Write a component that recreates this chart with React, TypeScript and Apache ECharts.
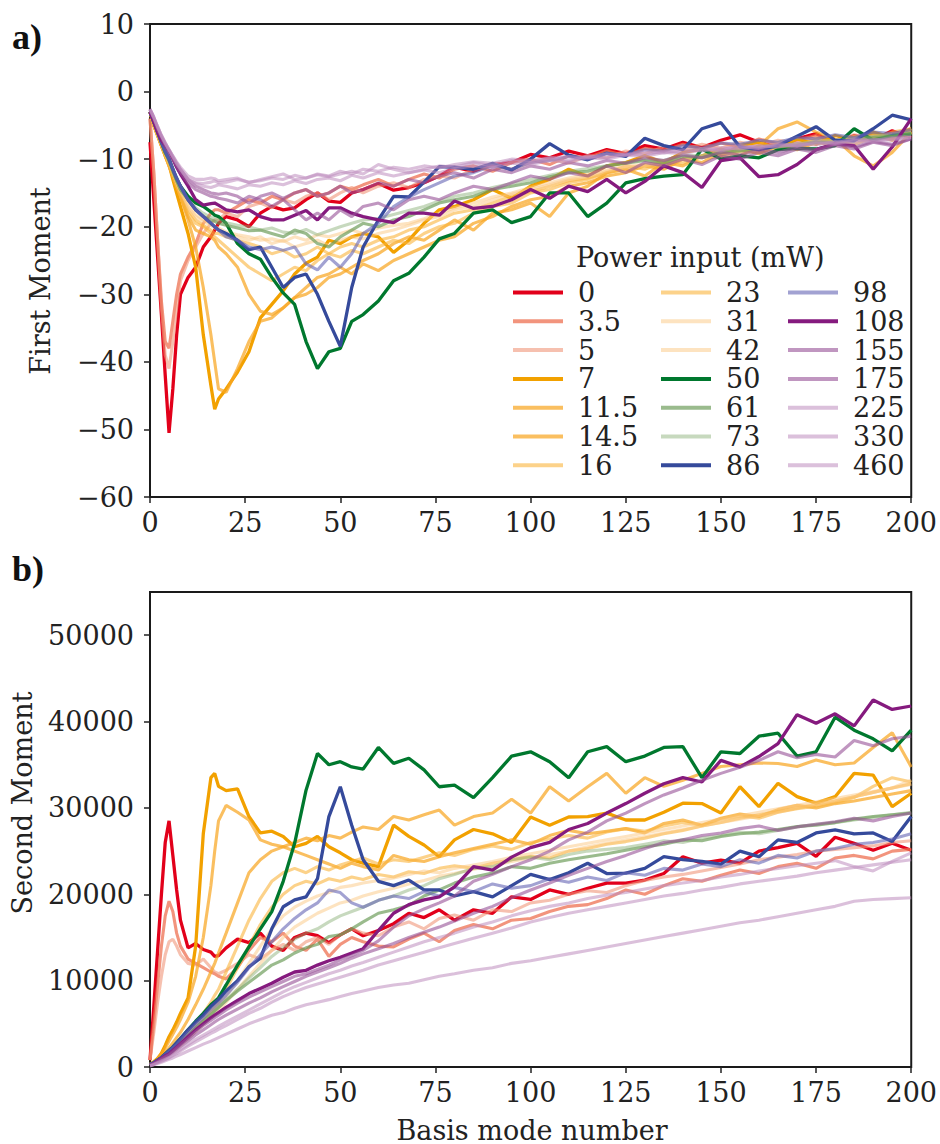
import React, { useEffect, useRef } from "react";
import * as echarts from "echarts";

const X = [0,1,2,3,4,5,6,7,8,10, 12,14,16,17,18,20,23,26,29,32, 35,38,41,44,47,50,53,56,60,64, 68,72,76,80,85,90,95,100,105,110, 115,120,125,130,135,140,145,150,155,160, 165,170,175,180,185,190,195,200];

const NAMES = ["0","3.5","5","7","11.5","14.5","16","23","31","42","50","61","73","86","98","108","155","175","225","330","460"];

const X_TICKS = [0,25,50,75,100,125,150,175,200];
const Y_TICKS_A = [-60,-50,-40,-30,-20,-10,0,10];
const Y_TICKS_B = [0,10000,20000,30000,40000,50000];

// ---------- Panel a) First Moment ----------
const A_0 = [-7.5,-16,-24.5,-33,-42,-50.5,-44,-36,-30,-27.5, -26,-23,-21.5,-20.5,-19.5,-18.5,-19,-20,-18,-17, -17.5,-17.2,-16,-15,-16.2,-16.4,-15,-14.5,-13.6,-14.6, -14.2,-13.5,-12.5,-11.2,-11.8,-10.8,-10.5,-9.3,-9.8,-8.8, -9.5,-8.6,-9.2,-8,-8.5,-7.5,-8.3,-7.2,-6.4,-7.5, -8.2,-7,-6.2,-7.8,-6.5,-7.2,-5.8,-6.8];
const A_3_5 = [-4,-12,-22,-31,-37,-38,-34,-30,-27,-24.5, -22.5,-19.5,-18,-17.5,-17.5,-18,-17,-16,-16.5,-15.5, -16,-15,-14.5,-15.5,-15,-14,-14.5,-13.8,-13,-14, -13,-12.2,-12.8,-11.5,-11,-11.8,-10.5,-10,-10.8,-9.5, -9.8,-8.8,-9.5,-8.4,-8.8,-7.8,-8.5,-7.6,-8.2,-7, -7.8,-7.2,-6.5,-7.5,-6.8,-6.2,-7,-5.8];
const A_5 = [-4,-12,-22,-32,-39,-41,-37,-32,-28,-25, -23,-21,-19.5,-19,-19,-18,-18.5,-17,-16.5,-17.2, -16,-16.5,-15.5,-15,-16,-15,-14.2,-15,-14,-13.5, -14.2,-13,-12.5,-12.8,-11.5,-11,-11.5,-10.5,-10,-10.6, -9.5,-9.8,-8.8,-9.2,-8.2,-8.6,-7.8,-8.4,-7.5,-8, -7.2,-7.6,-6.8,-7.2,-6.4,-7,-6.2,-6.5];
const A_7 = [-3,-5,-6.5,-8,-9.5,-10.8,-13,-15,-17,-21, -26,-36,-43.5,-47,-45.5,-44,-41.5,-38.5,-33.5,-31.5, -29.5,-27,-25.4,-24.5,-22,-22.5,-21.5,-21,-21.5,-23.8, -22,-19.5,-17.5,-17,-16,-14.5,-15.8,-14,-13,-11.5, -12.5,-11,-10.5,-9.5,-10.5,-9,-8.5,-9.5,-8,-7.5, -8.5,-7,-7.8,-6.5,-7.2,-6,-6.8,-5.5];
const A_11_5 = [-3,-5,-6.5,-8,-9.5,-11,-12.5,-14,-15.5,-19, -23,-29,-36,-40,-44,-44.5,-41,-37,-34,-33.5, -32,-30.5,-30,-29,-27.5,-27,-26,-25,-24,-22.5, -21.5,-22,-20.5,-19,-20.5,-18,-17.5,-16.5,-18.5,-15, -14,-12,-11.5,-12.5,-10.5,-11,-9.5,-8.5,-9.5,-8, -5.5,-4.5,-6,-7,-9.5,-11,-9,-6];
const A_14_5 = [-3,-5,-6.5,-8,-9.5,-11,-12.5,-14,-15.5,-18.5, -20.5,-21,-21.5,-22,-23,-24,-26,-30,-32.5,-33, -32,-30.5,-29,-27.5,-27,-26,-27,-25.5,-26.5,-25, -24,-23,-22,-21.5,-19.5,-18.5,-17,-16,-15.5,-14, -13.5,-12.5,-12,-11,-11.5,-10,-10.5,-9,-8.5,-9.2, -8,-8.6,-7.5,-8,-7,-6.4,-7.2,-6];
const A_16 = [-3,-5,-6.5,-8,-9.5,-11,-12.5,-14,-15.5,-18, -19.5,-20,-21,-21.5,-22,-23,-24.5,-26,-27,-28, -27,-26,-26.5,-25,-24,-24.5,-23.5,-24,-23,-22, -22.5,-21,-20,-19.5,-18,-17,-16.5,-15,-14.5,-13.5, -13,-12,-11,-11.5,-10.2,-10.6,-9.5,-9,-8.5,-8.8, -7.6,-8,-7,-7.4,-6.6,-7,-6,-5.5];
const A_23 = [-3,-4.8,-6.3,-7.8,-9.2,-10.5,-12,-13.5,-15,-17.5, -19,-19.8,-20.5,-21,-21,-21.5,-22,-22.5,-23,-24, -23.5,-24.5,-24,-23,-24,-23,-22.5,-23,-22,-21.5, -20.5,-20,-19,-18,-17.5,-16.5,-15.5,-14.8,-14,-13.2, -12.8,-12,-11.5,-10.8,-11.2,-10,-9.6,-9.8,-8.8,-9, -8.2,-8.4,-7.6,-7.2,-7.8,-6.8,-6.4,-6];
const A_31 = [-3,-4.8,-6.3,-7.8,-9.2,-10.5,-12,-13.5,-14.8,-17, -18.5,-19.2,-19.8,-20.2,-20.5,-21,-21.5,-22,-21.5,-22.5, -22,-23,-22.5,-22,-22.8,-22,-21.5,-21.8,-21,-20.5, -19.8,-19,-18.5,-17.5,-17,-16,-15.2,-14.5,-13.8,-13, -12.6,-11.8,-11.2,-11,-10.5,-10.2,-9.8,-9.5,-9,-8.6, -8.4,-8,-7.6,-7.4,-7,-6.8,-6.5,-6.2];
const A_42 = [-3,-4.8,-6.3,-7.8,-9.2,-10.5,-12,-13.5,-14.8,-16.8, -18.2,-19,-19.5,-20,-20.2,-20.8,-21.2,-21.5,-22,-21.8, -22.2,-21.5,-22,-21.2,-21.5,-21,-20.5,-21,-20.2,-19.8, -19.5,-18.8,-18,-17.2,-16.5,-15.6,-15,-14.2,-13.5,-12.8, -12.2,-11.6,-11,-10.8,-10.2,-10,-9.6,-9.2,-8.8,-8.4, -8.2,-7.8,-7.4,-7.2,-6.9,-6.6,-6.3,-6];
const A_50 = [-3,-4.5,-6,-7.5,-9,-10,-11.5,-13,-14,-15.5, -16.5,-17,-17.8,-18.3,-18.5,-19.5,-22.5,-24,-24.8,-27.5, -29.8,-31.5,-37,-41,-38.5,-38,-34,-33,-31,-28, -26.9,-24.5,-21.8,-21,-18,-17.5,-19.4,-18.5,-15,-15, -18.5,-16.5,-13.5,-12.9,-12.5,-12.3,-8.5,-10,-9.5,-9.8, -8.6,-8.4,-8.5,-8,-5.5,-7.2,-6.5,-6.3];
const A_61 = [-3,-4.6,-6.1,-7.6,-9,-10.3,-11.8,-13.2,-14.5,-16, -17.5,-18.5,-19,-19.2,-19.5,-19.8,-20.2,-20.6,-20.5,-21, -21.5,-20.5,-21,-22.5,-23,-21.5,-20.5,-19.5,-20,-19, -18.5,-17.5,-16.5,-16,-15.5,-14.5,-14,-13.5,-12.6,-12, -11.8,-11,-10.6,-10.2,-10.6,-9.6,-9.8,-9,-8.8,-8.5, -8.2,-8,-7.5,-7.6,-7,-6.8,-6.6,-6.2];
const A_73 = [-3,-4.6,-6.1,-7.6,-9,-10.3,-11.8,-13.2,-14.5,-16, -17.2,-18,-18.6,-18.8,-19,-19.4,-19.8,-20,-20.5,-20.2, -20.8,-21,-20.4,-21.2,-20.6,-20,-19.5,-19,-18.8,-18.2, -17.6,-17,-16.2,-15.5,-15,-14.2,-13.6,-13,-12.4,-11.8, -11.4,-11,-10.5,-10,-10.2,-9.4,-9.5,-8.8,-8.6,-8.2, -8,-7.7,-7.4,-7.2,-6.9,-6.6,-6.4,-6];
const A_86 = [-3,-4.5,-6,-7.5,-8.8,-10,-11.5,-12.8,-14,-16, -17.5,-18.5,-19.5,-20,-20.5,-21,-22,-23.4,-23,-26, -29,-27.5,-27,-30,-34,-37.7,-29,-23,-19,-15.5, -15.6,-13.4,-11.1,-11.2,-11.5,-10.6,-11.6,-10,-7.7,-9.4, -10.1,-9.1,-9.6,-6.9,-8,-8.6,-5.5,-4.6,-8.2,-8.6, -8,-6.6,-5.2,-7.2,-7.3,-5.5,-3.5,-4.2];
const A_98 = [-3,-4.5,-6,-7.5,-8.8,-10,-11.5,-12.8,-14,-16, -17.5,-18.5,-19.5,-20,-20.5,-21.5,-22,-23,-23.4,-23, -23.5,-23,-25.5,-26.4,-24.5,-26,-24,-21,-19.5,-17, -15.6,-14.5,-13.5,-12.5,-12,-11,-11.5,-10.5,-10.2,-9.6, -10,-9.2,-9.4,-8.6,-8.8,-8,-8.4,-7.6,-7.8,-7.2, -7.5,-6.8,-7,-6.4,-6.8,-6,-6.2,-5.6];
const A_108 = [-3,-4.5,-6,-7.2,-8,-8.8,-10,-11.2,-12.2,-14, -16,-16.8,-16.6,-16.5,-16.8,-17.5,-17.8,-17.5,-18.5,-19, -19,-18.3,-17.6,-19,-17.2,-17.2,-18,-18.5,-19,-19.4, -18,-18,-18.3,-16.2,-17.3,-17,-16,-14.5,-15.8,-14, -14.8,-13,-15,-13.3,-11,-12,-14.2,-10.2,-9.8,-12.6, -12.3,-10.8,-8.6,-7.7,-8,-11.5,-8.2,-4];
const A_155 = [-2.7,-4,-5.5,-6.8,-8,-9,-10,-11,-12,-13.5, -14.5,-15,-15.5,-15.6,-15.8,-16,-16.5,-15.5,-16,-17, -16,-17.5,-19,-18,-19,-17.5,-18.5,-17,-16.5,-17.5, -16,-15.5,-16,-15,-14,-14.5,-13.5,-12.5,-13,-12, -12.5,-11,-12,-10.5,-11,-10,-10.8,-9.5,-10,-9, -9.5,-8.5,-9,-8,-8.5,-7.5,-8,-7];
const A_175 = [-2.7,-4,-5.5,-6.7,-7.8,-8.8,-9.8,-10.8,-11.6,-13, -14,-14.5,-15,-15.1,-15.2,-15,-15.5,-16.5,-15.5,-15, -15.8,-15,-14.5,-15.5,-15,-14,-15,-14.5,-13.5,-14, -13,-13.5,-12.5,-12,-12.8,-11.5,-12,-11,-11.5,-10.5, -11,-10.2,-10.6,-9.8,-10.2,-9.4,-9.8,-9,-9.4,-8.6, -9,-8.2,-8.6,-7.8,-8.2,-7.4,-7.8,-7];
const A_225 = [-2.6,-3.8,-5.2,-6.5,-7.6,-8.6,-9.5,-10.4,-11.2,-12.5, -13,-13,-12.8,-12.9,-13.2,-13,-12.8,-13.5,-13,-12.6, -12.2,-13,-12.8,-12.3,-12.6,-12.2,-11.8,-12.2,-10.8,-11.5, -12,-11.5,-11,-11.2,-10.5,-11,-10.2,-10.5,-9.8,-10.2, -9.5,-9.8,-9.2,-9.4,-8.8,-9,-8.4,-8.6,-8,-8.3, -7.7,-8,-7.4,-7.6,-7,-7.2,-6.8,-6.6];
const A_330 = [-2.6,-3.8,-5.2,-6.5,-7.6,-8.6,-9.6,-10.6,-11.5,-13, -13.6,-14,-14.2,-14,-13.8,-14,-14.4,-13.8,-14,-13.5, -13.8,-13.2,-13.6,-13,-12.8,-13.2,-12.4,-12.8,-12,-12.5, -12,-11.6,-12,-11.4,-11,-11.2,-10.6,-10.8,-10.2,-10.4, -9.8,-10,-9.4,-9.6,-9,-9.2,-8.6,-8.8,-8.2,-8.4, -7.9,-8.1,-7.6,-7.8,-7.2,-7.4,-7,-6.8];
const A_460 = [-2.6,-3.8,-5.2,-6.5,-7.6,-8.6,-9.6,-10.6,-11.5,-13, -13.5,-13.6,-13.4,-13.2,-13.5,-13.4,-13,-13.4,-13.2,-12.8, -13,-12.4,-12.8,-12.2,-12.5,-11.8,-12.2,-11.5,-11.8,-11.2, -11.5,-11,-11.3,-10.8,-10.4,-10.6,-10,-10.2,-9.8,-9.6, -9.8,-9.2,-9.4,-8.9,-9.1,-8.6,-8.8,-8.3,-8.5,-8, -8.2,-7.7,-7.9,-7.4,-7.6,-7.1,-7.2,-6.8];

// ---------- Panel b) Second Moment ----------
const B_0 = [800,7000,13500,20000,26000,28500,24500,20500,17000,13800, 14300,13600,13300,12800,12900,13800,14800,14400,15500,14000, 13500,15000,15500,15200,14400,15300,16000,15200,15800,16600, 17800,17300,18200,17000,18200,17800,19700,19400,20500,20000, 20700,21300,21300,21650,22400,24350,23600,23950,23600,25000, 25400,25900,24400,26600,25900,25100,25900,25100];
const B_3_5 = [800,5000,9500,14000,17500,19200,18000,15500,14000,12500, 12000,11500,11000,10800,10500,10200,11500,13500,15000,14500, 15500,14000,13500,14800,12800,14200,15000,14500,14000,13900, 14800,15500,14500,15800,16500,16000,17000,17200,18000,18600, 18800,19500,20500,20000,21000,21800,21500,22200,22800,22400, 23200,23600,23000,24200,24500,24100,25000,25200];
const B_5 = [800,4000,7500,10500,13000,14500,14800,14000,13000,12000, 11800,12500,11500,11000,10800,11200,12000,13000,12500,13500, 14200,13500,14500,15000,14200,15300,16000,15500,15200,16200, 16800,16000,17200,17600,17000,18200,18000,19000,19300,20000, 20400,20200,21000,21600,22000,22300,22700,23100,23500,24000, 24300,24600,25000,25200,25400,25600,26000,26200];
const B_7 = [300,600,1000,1600,2500,3500,4300,5200,6200,8000, 14000,27000,33500,34000,32500,32000,32200,29000,27100,27300, 26700,25500,25900,26700,25500,24800,24000,23600,23200,28000, 26700,25700,24350,26300,27500,27000,26000,28950,28000,28950, 29000,29400,28600,28600,29500,30550,30500,29400,32450,30150, 32850,31300,30550,31300,34000,33800,30150,31700];
const B_11_5 = [300,600,1000,1500,2200,3000,3800,4600,5500,7500, 10500,15000,21000,25000,28500,30300,29500,28600,26300,25800, 25500,26000,26500,26200,26800,26500,27200,27800,27500,29000, 28600,29200,29750,28000,29000,29400,31000,29400,32450,30800, 32450,34000,31700,33500,32500,33200,34000,34800,35000,35200, 35150,34800,35550,35000,35200,37000,38700,34750];
const B_14_5 = [300,500,800,1200,1700,2200,2800,3400,4000,5500, 7200,9000,11000,12000,13200,15500,19000,22500,24000,25000, 25500,25000,24500,24000,23500,23000,23600,23200,22800,24500, 24000,23800,24350,24800,25300,25800,26300,25800,26800,27400, 27000,27300,27600,27100,28200,28600,28000,28800,29300,29000, 29800,30300,30000,30500,30800,31200,31600,32000];
const B_16 = [300,500,700,1000,1300,1700,2100,2500,3000,4000, 5000,6200,7500,8300,9000,11000,14000,17000,19500,21500, 22500,23000,22500,23200,22800,23400,23800,24200,23500,24000, 23800,24300,24800,24500,25200,25600,25200,26000,26400,26800, 26500,27200,27600,27300,27900,28300,28000,28700,29100,28800, 29500,29900,30200,30600,31200,32500,33500,33000];
const B_23 = [300,450,650,900,1200,1500,1900,2300,2700,3600, 4500,5500,6500,7000,7500,9000,11500,14000,16500,18500, 20000,21000,21500,21200,21800,21500,22000,21700,22300,22000, 22600,22400,23000,23300,23000,23600,24000,24400,24200,25000, 25300,25800,26100,26500,27000,27400,27900,28300,28800,29200, 29600,30000,30400,30800,31300,31800,32300,32800];
const B_31 = [300,450,650,900,1200,1500,1900,2300,2700,3500, 4300,5200,6100,6600,7100,8200,10000,12000,14000,16000, 17500,18500,19200,19800,20200,20800,21000,21300,21600,21900, 22300,22700,22500,23000,23400,23800,24300,24700,25100,25500, 25900,26300,26700,27100,27500,27900,28300,28700,29100,29500, 29900,30300,30700,31100,31500,31900,32300,32700];
const B_42 = [300,450,650,850,1100,1400,1750,2100,2500,3300, 4100,4900,5700,6100,6500,7500,9000,10500,12000,13500, 15000,16200,17000,17800,18400,19000,19300,19800,20300,20700, 21200,21600,22100,22400,22900,23300,23800,24200,24600,25000, 25500,25900,26300,26700,27100,27500,27900,28300,28700,29100, 29500,30000,30400,30800,31300,31800,32300,33200];
const B_50 = [300,500,800,1100,1500,1900,2300,2800,3300,4300, 5300,6200,7200,7600,8000,9500,11800,13900,16000,18000, 21500,25900,32050,36300,35000,35350,34750,34500,37000,35150, 35750,34400,32450,32650,31200,33500,36000,36500,35350,33500, 36500,37100,35350,36000,37000,37100,33500,36500,36300,38300, 38650,36000,36500,40500,39000,38000,36600,39000];
const B_61 = [300,480,700,950,1250,1550,1900,2300,2700,3600, 4500,5300,6100,6500,6900,7700,8800,9800,10800,11800, 12400,13200,13800,14200,15100,15300,16000,16800,17800,18200, 18700,19800,20500,21300,22000,22450,23200,23000,23600,24000, 24350,24700,25100,25500,25800,26300,26200,26700,27000,27200, 27500,27850,28000,28300,28700,29000,29200,29400];
const B_73 = [300,480,700,950,1250,1550,1900,2300,2700,3600, 4500,5300,6100,6500,6900,7800,9000,10300,11500,12800, 13800,14800,15500,16000,16800,17500,18000,18500,19300,19800, 20500,21000,21800,22300,23000,23200,24000,24300,24000,24600, 25000,25200,25400,25800,26200,26000,26500,26800,27200,27000, 27400,27800,28100,28300,28600,28900,29200,29500];
const B_86 = [300,500,800,1100,1500,1900,2300,2800,3300,4300, 5200,6000,7000,7400,7800,8800,10000,11600,12600,16000, 18560,19350,19700,21800,29000,32450,28000,24000,21500,21000, 21650,20500,20500,19800,20300,19700,21000,22300,21700,22500, 23600,22400,22450,23000,24350,24000,23800,23500,25000,24350, 26300,26000,27100,27450,27000,27100,26100,29000];
const B_98 = [300,500,800,1100,1450,1800,2200,2600,3100,4000, 4900,5700,6600,7000,7400,8300,9800,11500,13000,14500, 16000,17200,18200,19000,20500,20200,19000,18500,19300,19800, 19500,20300,19800,20800,20300,21200,20700,21000,21800,21400, 22000,21600,22500,22200,23000,22800,23500,23200,24000,23600, 24500,24200,25000,25300,25800,26000,26400,27000];
const B_108 = [200,400,700,1000,1300,1500,1900,2300,2700,3500, 4300,5000,5700,6000,6300,6900,7700,8500,9100,9700, 10400,11000,11200,11800,12300,12700,13200,13700,15800,17800, 18800,19350,19700,20850,23200,22800,24300,25400,26000,27500, 28200,29400,30500,31700,32800,33500,33000,35500,34750,35950, 37450,40800,39800,40900,39500,42500,41400,41800];
const B_155 = [200,400,650,950,1200,1450,1800,2200,2600,3300, 4100,4800,5400,5700,6000,6600,7400,8100,8700,9300, 9900,10500,10800,11300,11800,12400,12900,13500,14600,16200, 17500,18300,19000,19800,21500,22300,23200,24000,25000,26300, 27200,28500,29400,30500,31500,32300,33200,34000,34700,35500, 36500,35800,36200,35900,37800,37200,38000,38300];
const B_175 = [200,380,600,850,1100,1350,1650,2000,2350,3000, 3700,4300,4900,5200,5500,6000,6700,7400,8000,8700, 9300,9900,10500,11000,11500,12000,12600,13100,13700,14300, 15000,15600,16200,16900,17800,18600,19600,20500,21300,22200, 23000,23800,24500,25300,26000,26300,26800,27100,27600,27900, 27400,27800,28100,28400,28800,28500,29000,29400];
const B_225 = [150,300,500,700,900,1100,1400,1700,2000,2600, 3200,3700,4200,4450,4700,5200,5900,6600,7300,8000, 8700,9300,9800,10300,10800,11200,11700,12100,12700,13300, 13900,14500,15000,15500,16200,16800,17500,18100,18600,19000, 19500,19900,20200,20600,21000,21300,21600,22000,22300,22700, 23000,23300,23600,23900,23200,22700,23800,24800];
const B_330 = [150,300,480,650,850,1050,1300,1550,1850,2400, 2900,3400,3900,4100,4350,4800,5500,6200,6800,7500, 8150,8700,9200,9600,10000,10400,10800,11200,11800,12300, 12800,13300,13800,14300,14900,15500,16100,16800,17300,17800, 18200,18600,19000,19400,19800,20100,20500,20800,21200,21500, 21800,22100,22500,22800,23100,23400,23700,24000];
const B_460 = [100,250,400,550,720,880,1050,1250,1450,1850, 2250,2650,3000,3200,3400,3800,4400,5000,5500,6000, 6300,6800,7200,7500,7800,8150,8500,8800,9200,9500, 9700,10100,10500,10800,11200,11500,12000,12300,12700,13100, 13500,13900,14300,14700,15100,15500,15900,16300,16700,17000, 17400,17800,18200,18600,19200,19400,19500,19600];

const COLORS = [
  "#e2001a",
  "rgba(238,112,82,0.75)",
  "rgba(240,150,122,0.6)",
  "#f2a100",
  "rgba(248,166,35,0.72)",
  "rgba(248,166,35,0.72)",
  "rgba(250,180,60,0.6)",
  "rgba(250,180,60,0.6)",
  "rgba(252,200,130,0.5)",
  "rgba(252,200,130,0.5)",
  "#00782e",
  "rgba(100,150,80,0.65)",
  "rgba(130,170,110,0.45)",
  "#354a9b",
  "rgba(100,100,180,0.6)",
  "#851a7e",
  "rgba(150,80,150,0.6)",
  "rgba(150,80,150,0.6)",
  "rgba(190,140,190,0.55)",
  "rgba(190,140,190,0.55)",
  "rgba(190,140,190,0.55)",
];

const A_SET = [A_0,A_3_5,A_5,A_7,A_11_5,A_14_5,A_16,A_23,A_31,A_42,A_50,A_61,A_73,A_86,A_98,A_108,A_155,A_175,A_225,A_330,A_460];
const B_SET = [B_0,B_3_5,B_5,B_7,B_11_5,B_14_5,B_16,B_23,B_31,B_42,B_50,B_61,B_73,B_86,B_98,B_108,B_155,B_175,B_225,B_330,B_460];

const SERIF = "DejaVu Serif";
const INK = "#222222";
const FS = 27;

function minusFmt(v: number) {
  return v < 0 ? "\u2212" + Math.abs(v) : String(v);
}

export default function App() {
  const ref = useRef<HTMLDivElement>(null);
  useEffect(() => {
    document.body.style.margin = "0";
    const chart = echarts.init(ref.current!, null, { renderer: "svg" });
    const series: any[] = [];
    NAMES.forEach((name, i) => {
      const w = COLORS[i].startsWith("#") ? 3.3 : 3.1;
      series.push({
        type: "line", name, xAxisIndex: 0, yAxisIndex: 0,
        data: X.map((x, k) => [x, A_SET[i][k]]),
        showSymbol: false, symbol: "none", color: COLORS[i],
        lineStyle: { width: w, color: COLORS[i] }, silent: true,
      });
      series.push({
        type: "line", name, xAxisIndex: 1, yAxisIndex: 1,
        data: X.map((x, k) => [x, B_SET[i][k]]),
        showSymbol: false, symbol: "none", color: COLORS[i],
        lineStyle: { width: w, color: COLORS[i] }, silent: true,
      });
    });

    const tickLabel = { fontFamily: SERIF, fontSize: FS, color: INK };
    const axisTick = { show: true, inside: false, length: 6, lineStyle: { color: INK, width: 1.5 } };
    const xAxisBase = (gi: number) => ({
      type: "value", gridIndex: gi, position: "bottom", min: 0, max: 200, interval: 25,
      axisLine: { show: false, onZero: false }, splitLine: { show: false },
      axisTick: { ...axisTick, customValues: X_TICKS },
      axisLabel: { ...tickLabel, margin: 12, customValues: X_TICKS },
    });
    const legendBase = (names: string[], left: number) => ({
      data: names, left, top: 274, orient: "vertical", icon: "rect",
      itemWidth: 50, itemHeight: 4, itemGap: 1.8, selectedMode: false,
      textStyle: { fontFamily: SERIF, fontSize: FS, color: INK, lineHeight: 27, padding: [0, 0, 0, 10] },
    });

    chart.setOption({
      animation: false,
      backgroundColor: "#ffffff",
      grid: [
        { left: 150, top: 24, width: 764, height: 473, show: true, borderColor: "#1a1a1a", borderWidth: 2, backgroundColor: "transparent" },
        { left: 150, top: 592, width: 764, height: 475, show: true, borderColor: "#1a1a1a", borderWidth: 2, backgroundColor: "transparent" },
      ],
      xAxis: [xAxisBase(0), xAxisBase(1)],
      yAxis: [
        {
          type: "value", gridIndex: 0, position: "left", min: -60, max: 10, interval: 10,
          axisLine: { show: false, onZero: false }, splitLine: { show: false },
          axisTick: { ...axisTick, customValues: Y_TICKS_A },
          axisLabel: { ...tickLabel, margin: 16, formatter: minusFmt, customValues: Y_TICKS_A },
        },
        {
          type: "value", gridIndex: 1, position: "left", min: 0, max: 55000, interval: 10000,
          axisLine: { show: false, onZero: false }, splitLine: { show: false },
          axisTick: { ...axisTick, customValues: Y_TICKS_B },
          axisLabel: { ...tickLabel, margin: 16, formatter: (v: number) => String(v), customValues: Y_TICKS_B },
        },
      ],
      legend: [
        legendBase(NAMES.slice(0, 7), 508),
        legendBase(NAMES.slice(7, 14), 656),
        legendBase(NAMES.slice(14, 21), 783),
      ],
      graphic: [
        { type: "text", x: 12, y: 37, style: { text: "a)", font: 'bold 36px "Liberation Serif"', fill: "#111", textVerticalAlign: "middle", verticalAlign: "middle" } },
        { type: "text", x: 12, y: 569, style: { text: "b)", font: 'bold 36px "Liberation Serif"', fill: "#111", textVerticalAlign: "middle", verticalAlign: "middle" } },
        { type: "text", x: 576, y: 257, style: { text: "Power input (mW)", font: FS + 'px "DejaVu Serif"', fill: INK, textVerticalAlign: "middle", verticalAlign: "middle" } },
        { type: "text", x: 40, y: 281, rotation: Math.PI / 2, style: { text: "First Moment", x: 0, y: 0, font: FS + 'px "DejaVu Serif"', fill: INK, textAlign: "center", align: "center", textVerticalAlign: "middle", verticalAlign: "middle" } },
        { type: "text", x: 22, y: 803, rotation: Math.PI / 2, style: { text: "Second Moment", x: 0, y: 0, font: FS + 'px "DejaVu Serif"', fill: INK, textAlign: "center", align: "center", textVerticalAlign: "middle", verticalAlign: "middle" } },
        { type: "text", x: 532, y: 1130, style: { text: "Basis mode number", x: 0, y: 0, font: FS + 'px "DejaVu Serif"', fill: INK, textAlign: "center", align: "center", textVerticalAlign: "middle", verticalAlign: "middle" } },
      ],
      series,
    });
    return () => chart.dispose();
  }, []);
  return <div ref={ref} style={{ width: 940, height: 1144 }} />;
}
